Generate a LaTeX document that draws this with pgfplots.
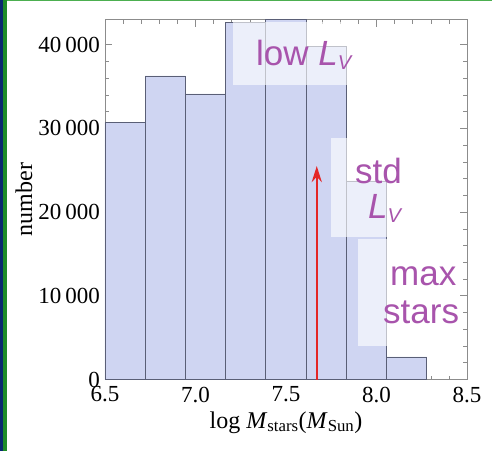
\documentclass[border=0pt]{standalone}
\usepackage{fontspec}
\setmainfont{Liberation Serif}
\newfontfamily\sansf{Liberation Sans}
\usepackage{pgfplots}
\pgfplotsset{compat=1.18}
\usetikzlibrary{arrows.meta}
\pgfdeclarelayer{background}
\pgfsetlayers{background,main}
\definecolor{barfill}{RGB}{207,213,242}
\definecolor{baredge}{RGB}{90,95,118}
\definecolor{framegray}{RGB}{140,140,140}
\definecolor{labpurple}{RGB}{168,84,172}
\definecolor{arrowred}{RGB}{228,38,38}
\definecolor{slidegreen}{RGB}{30,140,40}
\definecolor{slideblue}{RGB}{10,40,110}
\definecolor{topgreen}{RGB}{76,175,80}
\begin{document}
\begin{tikzpicture}[x=1pt,y=1pt]
\begin{axis}[
  width=362pt, height=360pt, scale only axis,
  xmin=6.5, xmax=8.5, ymin=0, ymax=43000,
  axis line style={framegray, line width=0.8pt},
  xtick={6.5,7,7.5,8,8.5}, ytick={0,10000,20000,30000,40000},
  minor x tick num=4, minor y tick num=4,
  tick style={framegray, line width=0.6pt},
  major tick length=7pt, minor tick length=4pt,
  tick align=inside,
  xtick pos=both, ytick pos=both,
  xticklabel pos=lower, yticklabel pos=left,
  scaled y ticks=false,
  /pgf/number format/assume math mode=true,
  ticklabel style={font=\fontsize{23}{25}\selectfont, inner sep=0pt},
  yticklabel style={/pgf/number format/fixed, /pgf/number format/1000 sep={\,}, xshift=-5pt},
  xticklabel style={/pgf/number format/fixed, /pgf/number format/fixed zerofill, /pgf/number format/precision=1, yshift=-7pt},
  xlabel={log \textit{M}\textsubscript{stars}(\textit{M}\textsubscript{Sun})},
  ylabel={number},
  label style={font=\fontsize{24}{28}\selectfont},
  xlabel style={at={(axis description cs:0.5,-0.1347)}, anchor=base},
  ylabel style={at={(axis description cs:-0.2238,0.5)}, anchor=center},
]
\addplot[ybar interval, fill=barfill, draw=baredge, line width=0.8pt] coordinates {
  (6.5,30700) (6.7222,36260) (6.9444,34110) (7.1667,42630) (7.3889,43000)
  (7.6111,39730) (7.8333,23720) (8.0556,2690) (8.2778,0)};
\addplot[arrowred, line width=2.5pt, -{Stealth[length=16pt,width=10pt]}] coordinates {(7.67,0) (7.67,25500)};
\coordinate (O) at (rel axis cs:0,0);
\end{axis}
\begin{scope}[shift={(O)}]
\begin{scope}[shift={(-105,379.5)}]
\begin{pgfonlayer}{background}
\fill[white] (0,0) rectangle (492,-451);
\end{pgfonlayer}
\fill[slideblue] (0,0) rectangle (2.7,-451);
\fill[slidegreen] (2.7,0) rectangle (7.5,-451);
\fill[topgreen] (7.5,0) rectangle (492,-1.2);
\fill[white, opacity=0.62] (233,-22) rectangle (347,-85);
\fill[white, opacity=0.62] (331,-138) rectangle (387,-237);
\fill[white, opacity=0.62] (358,-239) rectangle (387,-346);
\node[anchor=base west, inner sep=0pt, text=labpurple, font=\sansf\fontsize{35}{40}\selectfont] at (256,-65) {low \textit{L}\raisebox{-4pt}{\fontsize{20}{20}\selectfont\textit{V}}};
\node[anchor=base west, inner sep=0pt, text=labpurple, font=\sansf\fontsize{35}{40}\selectfont] at (355,-183) {std};
\node[anchor=base west, inner sep=0pt, text=labpurple, font=\sansf\fontsize{35}{40}\selectfont] at (368,-218) {\textit{L}\raisebox{-4pt}{\fontsize{20}{20}\selectfont\textit{V}}};
\node[anchor=base west, inner sep=0pt, text=labpurple, font=\sansf\fontsize{35}{40}\selectfont] at (390,-285) {max};
\node[anchor=base west, inner sep=0pt, text=labpurple, font=\sansf\fontsize{35}{40}\selectfont] at (383,-323) {stars};
\pgfresetboundingbox
\path (0,0) rectangle (492,-451);
\end{scope}
\end{scope}
\end{tikzpicture}
\end{document}
